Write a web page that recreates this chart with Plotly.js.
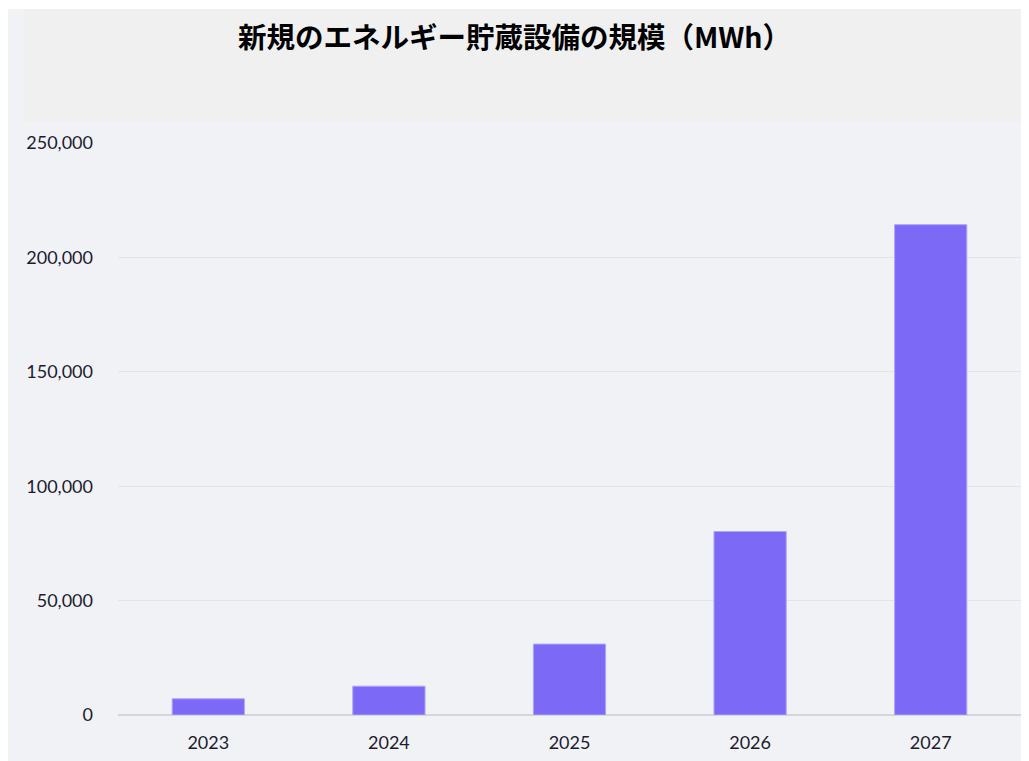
<!DOCTYPE html>
<html>
<head>
<meta charset="utf-8">
<script src="https://cdn.plot.ly/plotly-3.0.1.min.js"></script>
<style>html,body{margin:0;padding:0;background:#fff;}#chart{width:1029px;height:761px;}</style>
</head>
<body>
<div id="chart"></div>
<script>
const years = ["2023", "2024", "2025", "2026", "2027"];
const capacityMWh = [7100, 12600, 31000, 80200, 214300];
const yTickVals = [0, 50000, 100000, 150000, 200000, 250000];
const yTickText = ["0", "50,000", "100,000", "150,000", "200,000", "250,000"];
const chartTitle = "新規のエネルギー貯蔵設備の規模（MWh）";

const W = 1029, H = 761;
const M = {l: 118, r: 8, t: 143, b: 46};
const pw = W - M.l - M.r, ph = H - M.t - M.b;
const px = x => (x - M.l) / pw;
const py = y => 1 - (y - M.t) / ph;

const trace = {
  type: "bar",
  x: years,
  y: capacityMWh,
  marker: {color: "#7c6af7", line: {color: "#aea4fb", width: 1}},
  hoverinfo: "x+y"
};

const layout = {
  width: W, height: H,
  margin: M,
  paper_bgcolor: "#ffffff",
  plot_bgcolor: "rgba(0,0,0,0)",
  bargap: 0.6,
  showlegend: false,
  font: {family: "Lato, 'Noto Sans', sans-serif", color: "#1c1c2e", size: 18},
  title: {
    text: "<b>" + chartTitle + "</b>",
    font: {family: "'Noto Sans CJK JP', sans-serif", size: 28.5, color: "#000000"},
    x: 0.5, xref: "container", xanchor: "center",
    y: 1 - 38 / H, yref: "container", yanchor: "middle"
  },
  xaxis: {
    type: "category",
    showgrid: false,
    showline: false,
    zeroline: false,
    ticks: "",
    ticklabelstandoff: 15,
    tickfont: {size: 18, color: "#1c1c2e"},
    fixedrange: true
  },
  yaxis: {
    range: [0, 250000],
    tickvals: yTickVals,
    ticktext: yTickText,
    showgrid: true,
    gridcolor: "#e3e4ea",
    gridwidth: 1,
    zeroline: true,
    zerolinecolor: "#d6d6da",
    zerolinewidth: 1.5,
    showline: false,
    ticks: "",
    ticklabelstandoff: 24,
    tickfont: {size: 18, color: "#1c1c2e"},
    fixedrange: true
  },
  shapes: [
    {type: "rect", xref: "paper", yref: "paper", layer: "below",
     x0: px(8), x1: px(1021), y0: py(761), y1: py(9),
     fillcolor: "#f1f2f6", line: {width: 0}},
    {type: "rect", xref: "paper", yref: "paper", layer: "below",
     x0: px(24), x1: px(1021), y0: py(122), y1: py(9),
     fillcolor: "#f0f0f0", line: {width: 0}}
  ]
};

Plotly.newPlot("chart", [trace], layout, {displayModeBar: false, staticPlot: true});
</script>
</body>
</html>
